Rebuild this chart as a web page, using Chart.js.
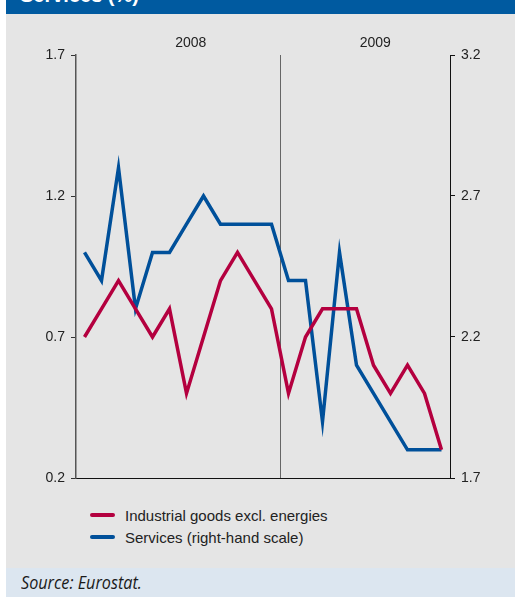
<!DOCTYPE html>
<html lang="en">
<head>
<meta charset="UTF-8">
<title>Services (%)</title>
<script src="https://cdn.jsdelivr.net/npm/chart.js"></script>
<style>
  body { margin: 0; width: 515px; height: 597px; position: relative; overflow: hidden; background: #fff;
         font-family: "Liberation Sans", Arial, sans-serif; }
  .header { position: absolute; left: 6px; top: 0; width: 509px; height: 14px; background: #005aa0; overflow: hidden; }
  .header span { position: absolute; left: 14px; top: -15px; font-size: 20px; line-height: 20px; font-weight: bold; color: #fff; }
  .panel { position: absolute; left: 6px; top: 14px; width: 509px; height: 554px; background: #e5e5e5; }
  .source { position: absolute; left: 6px; top: 568px; width: 509px; height: 29px; background: #dce6f0; }
  .source span { position: absolute; left: 15px; top: 3px; font-family: "Open Sans", sans-serif; font-style: italic;
                 font-size: 18px; line-height: 22px; color: #1a1a1a; transform: scaleX(0.9); transform-origin: left; }
  #chart { position: absolute; left: 0; top: 0; }
  .legend { position: absolute; left: 90px; top: 504px; font-size: 15px; color: #222; }
  .legend div { display: flex; align-items: center; height: 22px; }
  .legend i { display: block; width: 25px; height: 4px; border-radius: 2px; margin-right: 10px; }
</style>
</head>
<body>
<div class="header"><span>Services (%)</span></div>
<div class="panel"></div>
<canvas id="chart" width="515" height="500"></canvas>
<div class="legend" id="legend"></div>
<div class="source"><span>Source: Eurostat.</span></div>

<script>
// monthly observations, Jan 2008 - Oct 2009
const months = ['2008-01', '2008-02', '2008-03', '2008-04', '2008-05', '2008-06',
                '2008-07', '2008-08', '2008-09', '2008-10', '2008-11', '2008-12',
                '2009-01', '2009-02', '2009-03', '2009-04', '2009-05', '2009-06',
                '2009-07', '2009-08', '2009-09', '2009-10'];
const years = ['2008', '2009'];

const industrialLabel = 'Industrial goods excl. energies';
const industrial = [0.7, 0.8, 0.9, 0.8, 0.7, 0.8, 0.5, 0.7, 0.9, 1.0, 0.9, 0.8,
                    0.5, 0.7, 0.8, 0.8, 0.8, 0.6, 0.5, 0.6, 0.5, 0.3];

const servicesLabel = 'Services (right-hand scale)';
const services = [2.5, 2.4, 2.8, 2.3, 2.5, 2.5, 2.6, 2.7, 2.6, 2.6, 2.6, 2.6,
                  2.4, 2.4, 1.9, 2.5, 2.1, 2.0, 1.9, 1.8, 1.8, 1.8];

const leftTicks = [0.2, 0.7, 1.2, 1.7];
const rightTicks = [1.7, 2.2, 2.7, 3.2];

const RED = '#b4003f';
const BLUE = '#00509a';

// year divider and year captions above the plot
const yearMarks = {
  id: 'yearMarks',
  beforeDatasetsDraw(chart) {
    const { ctx, chartArea, scales: { x } } = chart;
    const firstOf2009 = months.findIndex(m => m.startsWith(years[1]));
    const xDiv = Math.round((x.getPixelForValue(firstOf2009 - 1) + x.getPixelForValue(firstOf2009)) / 2) + 0.5;
    ctx.save();
    ctx.strokeStyle = '#666';
    ctx.lineWidth = 1;
    ctx.beginPath();
    ctx.moveTo(xDiv, chartArea.top);
    ctx.lineTo(xDiv, chartArea.bottom);
    ctx.stroke();

    ctx.fillStyle = '#222';
    ctx.font = '14px "Liberation Sans", Arial, sans-serif';
    ctx.textAlign = 'center';
    ctx.textBaseline = 'middle';
    ctx.fillText(years[0], x.getPixelForDecimal(0.307), 43);
    ctx.fillText(years[1], x.getPixelForDecimal(0.80), 43);
    ctx.restore();
  }
};

const tickFont = { family: '"Liberation Sans", Arial, sans-serif', size: 14 };

new Chart(document.getElementById('chart'), {
  type: 'line',
  data: {
    labels: months,
    datasets: [
      { label: industrialLabel, data: industrial, yAxisID: 'y', borderColor: RED },
      { label: servicesLabel, data: services, yAxisID: 'y1', borderColor: BLUE }
    ]
  },
  options: {
    responsive: false,
    animation: false,
    layout: { padding: { top: 55, left: 0, right: 0, bottom: 0 } },
    elements: {
      line: { borderWidth: 3.5, tension: 0, fill: false, borderJoinStyle: 'miter' },
      point: { radius: 0 }
    },
    plugins: { legend: { display: false }, tooltip: { enabled: false } },
    scales: {
      x: {
        offset: true,
        ticks: { display: false },
        grid: { display: false },
        border: { display: true, color: '#111', width: 1 },
        afterFit(scale) { scale.height = 22; }
      },
      y: {
        position: 'left',
        min: 0.2, max: 1.7,
        afterBuildTicks(scale) { scale.ticks = leftTicks.map(v => ({ value: v })); },
        ticks: { color: '#222', font: tickFont, padding: 6, callback: v => v.toFixed(1) },
        grid: { drawOnChartArea: false, tickLength: 5, color: '#333' },
        border: { color: '#555', width: 1.5 },
        afterFit(scale) { scale.width = 76; }
      },
      y1: {
        position: 'right',
        min: 1.7, max: 3.2,
        afterBuildTicks(scale) { scale.ticks = rightTicks.map(v => ({ value: v })); },
        ticks: { color: '#222', font: tickFont, padding: 6, callback: v => v.toFixed(1) },
        grid: { drawOnChartArea: false, tickLength: 5, color: '#111' },
        border: { color: '#111', width: 1 },
        afterFit(scale) { scale.width = 65; }
      }
    }
  },
  plugins: [yearMarks]
});

// legend rows
const legend = document.getElementById('legend');
[[industrialLabel, RED], [servicesLabel, BLUE]].forEach(([text, color]) => {
  const row = document.createElement('div');
  const swatch = document.createElement('i');
  swatch.style.background = color;
  row.appendChild(swatch);
  row.appendChild(document.createTextNode(text));
  legend.appendChild(row);
});
</script>
</body>
</html>
